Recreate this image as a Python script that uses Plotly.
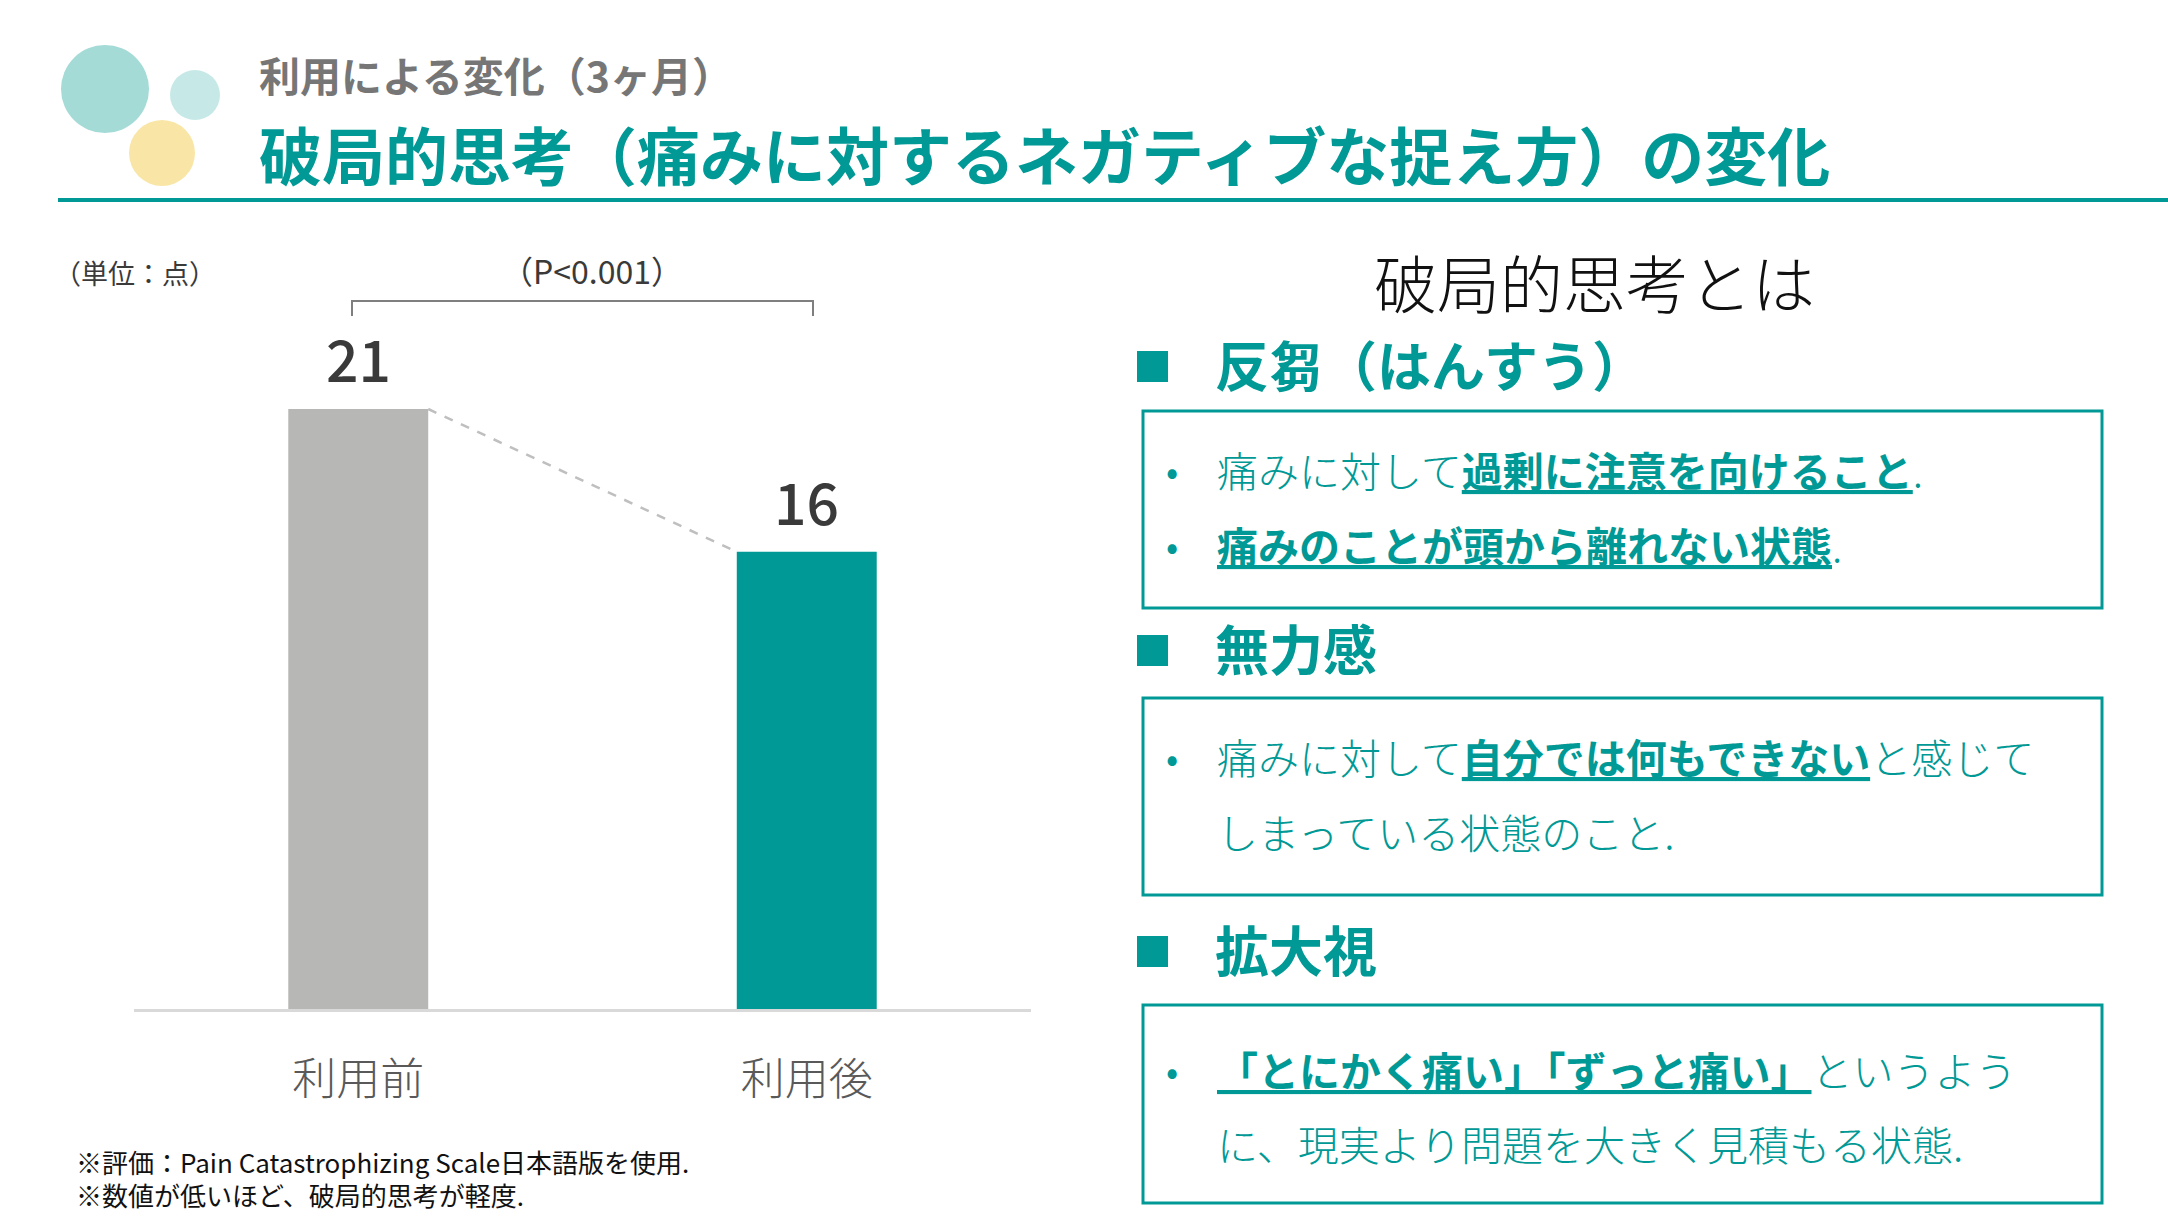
import plotly.graph_objects as go

# ---------------- data ----------------
categories = ["利用前", "利用後"]
values = [21, 16]
value_labels = ["21", "16"]
bar_colors = ["#B7B7B6", "#009995"]
p_text = "（P&lt;0.001）"
unit_text = "（単位：点）"
subtitle = "利用による変化（3ヶ月）"
title = "破局的思考（痛みに対するネガティブな捉え方）の変化"
panel_title = "破局的思考とは"
headers = ["反芻（はんすう）", "無力感", "拡大視"]
footnotes = ["※評価：Pain Catastrophizing Scale日本語版を使用.",
             "※数値が低いほど、破局的思考が軽度."]

# ---------------- layout helpers ----------------
W, H = 2168, 1216
TEAL = "#009995"
FONT = "Noto Sans CJK JP"


def X(x):
    return x / W


def Y(y):
    return 1 - y / H


x_left, x_right = 134, 1031
y_zero = 1009
px_per_unit = 600 / 21
y_top_val = 25
y_top_px = y_zero - y_top_val * px_per_unit
bar_w = 0.312
x_idx = list(range(len(categories)))

fig = go.Figure()
fig.add_trace(go.Bar(
    x=x_idx, y=values, width=bar_w,
    marker=dict(color=bar_colors, line=dict(width=0)),
    hoverinfo="skip", showlegend=False))
fig.add_trace(go.Scatter(
    x=[x_idx[0] + bar_w / 2, x_idx[1] - bar_w / 2],
    y=[values[0], values[1]],
    mode="lines", line=dict(color="#BFBFBF", width=2.5, dash="dash"),
    hoverinfo="skip", showlegend=False))

annotations = []
# value labels
for xi, v, t in zip(x_idx, values, value_labels):
    annotations.append(dict(x=xi, y=v, xref="x", yref="y", text=t, showarrow=False,
                            xanchor="center", yanchor="middle", yshift=52,
                            font=dict(family=FONT, size=57, color="#3A3A3A", weight=500)))


def txt(x, y, text, size, color, xanchor="left", weight=400):
    annotations.append(dict(x=X(x), y=Y(y), xref="paper", yref="paper", text=text,
                            showarrow=False, xanchor=xanchor, yanchor="middle",
                            font=dict(family=FONT, size=size, color=color, weight=weight)))


txt(257, 74, subtitle, 41, "#767676", weight=700)
txt(257, 152, title, 63, TEAL, weight=700)
txt(52, 272, unit_text, 27, "#3A3A3A")
txt(592, 270, p_text, 32, "#3A3A3A", xanchor="center")
txt(74, 1161, footnotes[0], 26, "#111111")
txt(74, 1194, footnotes[1], 26, "#111111")
txt(1594, 280, panel_title, 63, "#111111", xanchor="center", weight=300)

header_y = [363, 647, 948]
square_y = [366, 650, 951]
for hy, ht in zip(header_y, headers):
    txt(1213, hy, ht, 54, TEAL, weight=700)

# bullet lines
lines = [
    (469, True, "痛みに対して<b><u>過剰に注意を向けること</u></b>."),
    (544, True, "<b><u>痛みのことが頭から離れない状態</u></b>."),
    (756, True, "痛みに対して<b><u>自分では何もできない</u></b>と感じて"),
    (831, False, "しまっている状態のこと."),
    (1069, True, "<b><u>「とにかく痛い」「ずっと痛い」</u></b>というよう"),
    (1143, False, "に、現実より問題を大きく見積もる状態."),
]
for ly, bullet, t in lines:
    if bullet:
        txt(1172, ly, "•", 36, TEAL, xanchor="center")
    txt(1215, ly, t, 41, TEAL, weight=300)

shapes = []
# decorative circles
for cx, cy, r, col in [(105, 89, 44, "#A4DBD7"), (195, 95, 25, "#C6E9E7"), (162, 153, 33, "#F9E6A6")]:
    shapes.append(dict(type="circle", xref="paper", yref="paper",
                       x0=X(cx - r), x1=X(cx + r), y0=Y(cy + r), y1=Y(cy - r),
                       fillcolor=col, line=dict(width=0), layer="below"))
# header rule
shapes.append(dict(type="line", xref="paper", yref="paper", x0=X(58), x1=1,
                   y0=Y(200), y1=Y(200), line=dict(color=TEAL, width=4)))
# significance bracket
shapes.append(dict(type="path", xref="paper", yref="paper",
                   path=f"M {X(352)},{Y(316)} L {X(352)},{Y(301)} L {X(813)},{Y(301)} L {X(813)},{Y(316)}",
                   line=dict(color="#7F7F7F", width=2)))
# boxes
for y0, y1 in [(411, 608), (698, 895), (1005, 1203)]:
    shapes.append(dict(type="rect", xref="paper", yref="paper",
                       x0=X(1143), x1=X(2102), y0=Y(y1), y1=Y(y0),
                       line=dict(color=TEAL, width=3), fillcolor="rgba(0,0,0,0)"))
# header squares
for hy in square_y:
    shapes.append(dict(type="rect", xref="paper", yref="paper",
                       x0=X(1137), x1=X(1168), y0=Y(hy + 16), y1=Y(hy - 15),
                       line=dict(width=0), fillcolor=TEAL))

fig.update_layout(
    width=W, height=H,
    margin=dict(l=0, r=0, t=0, b=0),
    paper_bgcolor="white", plot_bgcolor="white",
    showlegend=False,
    xaxis=dict(domain=[X(x_left), X(x_right)], range=[-0.5, 1.5],
               tickvals=x_idx, ticktext=categories, showgrid=False, zeroline=False,
               showline=True, linecolor="#D9D9D9", linewidth=3, ticks="",
               ticklabelstandoff=30,
               tickfont=dict(family=FONT, size=44, color="#595959", weight=300),
               fixedrange=True),
    yaxis=dict(domain=[Y(y_zero), Y(y_top_px)], range=[0, y_top_val], visible=False,
               fixedrange=True),
    annotations=annotations,
    shapes=shapes,
    font=dict(family=FONT),
)

fig.write_html("out.html", config={"displayModeBar": False})
